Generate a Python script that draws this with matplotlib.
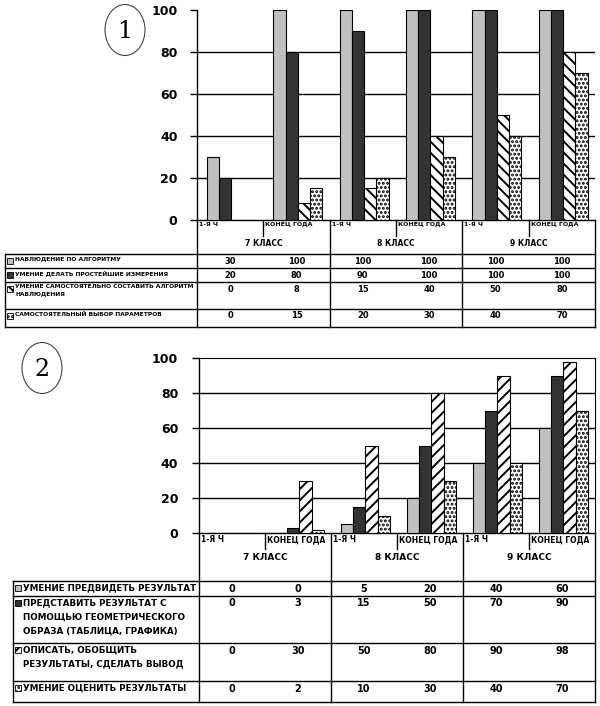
import numpy as np
import matplotlib.pyplot as plt
from matplotlib import patches

plt.rcParams['font.family'] = ['Liberation Sans Narrow', 'DejaVu Sans']
plt.rcParams['hatch.linewidth'] = 1.4

# --- data ---
categories = ['1-Я Ч', 'КОНЕЦ ГОДА', '1-Я Ч', 'КОНЕЦ ГОДА', '1-Я Ч', 'КОНЕЦ ГОДА']
classes = ['7 КЛАСС', '8 КЛАСС', '9 КЛАСС']

labels1 = ['НАБЛЮДЕНИЕ ПО АЛГОРИТМУ',
           'УМЕНИЕ ДЕЛАТЬ ПРОСТЕЙШИЕ ИЗМЕРЕНИЯ',
           'УМЕНИЕ САМОСТОЯТЕЛЬНО СОСТАВИТЬ АЛГОРИТМ\nНАБЛЮДЕНИЯ',
           'САМОСТОЯТЕЛЬНЫЙ ВЫБОР ПАРАМЕТРОВ']
nabl = [30, 100, 100, 100, 100, 100]
izmer = [20, 80, 90, 100, 100, 100]
algor = [0, 8, 15, 40, 50, 80]
param = [0, 15, 20, 30, 40, 70]

labels2 = ['УМЕНИЕ ПРЕДВИДЕТЬ РЕЗУЛЬТАТ',
           'ПРЕДСТАВИТЬ РЕЗУЛЬТАТ С\nПОМОЩЬЮ ГЕОМЕТРИЧЕСКОГО\nОБРАЗА (ТАБЛИЦА, ГРАФИКА)',
           'ОПИСАТЬ, ОБОБЩИТЬ\nРЕЗУЛЬТАТЫ, СДЕЛАТЬ ВЫВОД',
           'УМЕНИЕ ОЦЕНИТЬ РЕЗУЛЬТАТЫ']
predv = [0, 0, 5, 20, 40, 60]
geom = [0, 3, 15, 50, 70, 90]
opis = [0, 30, 50, 80, 90, 98]
ocen = [0, 2, 10, 30, 40, 70]

yticks = [0, 20, 40, 60, 80, 100]

W, H = 600, 706
fig = plt.figure(figsize=(W / 100, H / 100), dpi=100)

styles1 = [dict(fc='#c0c0c0'), dict(fc='#333333'),
           dict(fc='white', hatch='\\\\\\'), dict(fc='white', hatch='....')]
styles2 = [dict(fc='#c0c0c0'), dict(fc='#333333'),
           dict(fc='white', hatch='///'), dict(fc='white', hatch='....')]


def px_axes(left, right, top, bottom):
    return fig.add_axes([left / W, 1 - bottom / H, (right - left) / W, (bottom - top) / H])


def bar_chart(ax, series, styles, boxed, pad):
    x = np.arange(len(categories))
    w = 0.185
    for i, (vals, st) in enumerate(zip(series, styles)):
        ax.bar(x + (i - 1.5) * w + 0.02, vals, w, edgecolor='black', lw=0.8, zorder=3, **st)
    ax.set_xlim(-0.5, len(categories) - 0.5)
    ax.set_ylim(0, 100)
    ax.set_xticks([])
    ax.set_yticks(yticks)
    ax.set_yticklabels([str(t) for t in yticks], fontsize=9, fontweight='bold')
    ax.tick_params(axis='y', length=5, width=1, pad=pad)
    for t in yticks[1:-1]:
        ax.axhline(t, color='black', lw=1, zorder=1)
    for s in ['left', 'bottom']:
        ax.spines[s].set_linewidth(1)
    if not boxed:
        ax.spines['top'].set_visible(False)
        ax.spines['right'].set_visible(False)


def table(tax, xl, x0, x1, y0, y_cls, rows, labels, series, styles, fs, fs_lab):
    edges = np.linspace(x0, x1, len(categories) + 1)
    # category / class header
    for i, c in enumerate(categories):
        tax.text(edges[i] + 2, y0 + 2, c, fontsize=fs - 1.5, fontweight='bold', va='top', ha='left')
    for i, e in enumerate(edges):
        yb = rows[-1] if i % 2 == 0 else y0 + 16
        tax.plot([e, e], [y0, yb], color='black', lw=1)
    for j, c in enumerate(classes):
        tax.text((edges[2 * j] + edges[2 * j + 2]) / 2, y_cls, c, fontsize=fs - 0.5,
                 fontweight='bold', ha='center', va='center')
    # data rows
    for y in rows:
        tax.plot([xl, x1], [y, y], color='black', lw=1)
    tax.plot([xl, xl], [rows[0], rows[-1]], color='black', lw=1)
    for r, (lab, vals, st) in enumerate(zip(labels, series, styles)):
        ytop = rows[r]
        tax.add_patch(patches.Rectangle((xl + 2, ytop + 4), 6, 6, edgecolor='black', lw=0.6, **st))
        tax.text(xl + 10, ytop + 2.5, lab, fontsize=fs_lab, fontweight='bold', va='top', ha='left',
                 linespacing=1.7)
        for i, v in enumerate(vals):
            tax.text((edges[i] + edges[i + 1]) / 2, ytop + 2.5, str(v), fontsize=fs,
                     fontweight='bold', va='top', ha='center')


ax1 = px_axes(197, 595, 10, 220)
bar_chart(ax1, [nabl, izmer, algor, param], styles1, False, 9)
ax2 = px_axes(199, 595, 358, 533)
bar_chart(ax2, [predv, geom, opis, ocen], styles2, True, 10)

tax = fig.add_axes([0, 0, 1, 1])
tax.set_xlim(0, W)
tax.set_ylim(H, 0)
tax.axis('off')
tax.patch.set_alpha(0)

table(tax, 5, 197, 595, 220, 243, [254, 268, 282, 309, 327],
      labels1, [nabl, izmer, algor, param], styles1, 6, 4.3)
table(tax, 13, 199, 595, 533, 558, [581, 596, 643, 681, 702],
      labels2, [predv, geom, opis, ocen], styles2, 7, 6.3)

# circled chart numbers
for (cx, cy, n) in [(125, 30, '1'), (42, 368, '2')]:
    tax.add_patch(patches.Ellipse((cx, cy), 40, 51, fill=False, edgecolor='#444444', lw=0.8))
    tax.text(cx, cy + 1, n, fontsize=17, family='DejaVu Serif', ha='center', va='center')

fig.savefig('out.png', dpi=100)
